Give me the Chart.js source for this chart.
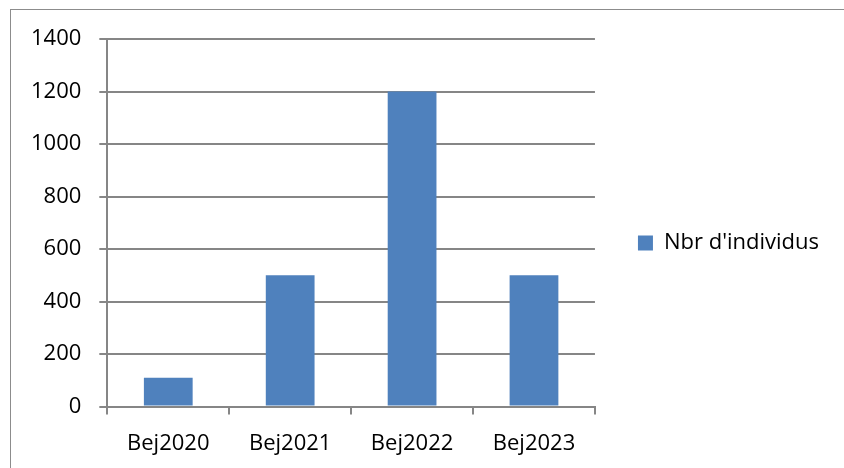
<!DOCTYPE html>
<html>
<head>
<meta charset="utf-8">
<script src="https://cdn.jsdelivr.net/npm/chart.js@4/dist/chart.umd.min.js"></script>
<style>
  html, body { margin: 0; padding: 0; background: #fff; }
  #wrap { position: relative; width: 844px; height: 468px; overflow: hidden; }
  #frame { position: absolute; left: 10px; top: 9px; width: 900px; height: 500px; border: 1px solid #8c8c8c; }
  #chart { position: absolute; left: 0; top: 0; }
</style>
</head>
<body>
<div id="wrap">
  <div id="frame"></div>
  <canvas id="chart" width="844" height="468"></canvas>
</div>
<script>
    "use strict";

    // données
    var categories = ["Bej2020", "Bej2021", "Bej2022", "Bej2023"];
    var individus = [110, 500, 1200, 500];
    var seriesLabel = "Nbr d'individus";
    var yMin = 0, yMax = 1400, yStep = 200;

    var gridColor = "#868686";
    Chart.defaults.font.family = "'Open Sans', sans-serif";
    Chart.defaults.font.size = 22;
    Chart.defaults.color = "#000";

    // remonte un peu la légende
    var legendShift = {
        id: "legendShift",
        afterLayout: function (chart) {
            if (chart.legend) {
                chart.legend.top -= 13;
                chart.legend.bottom -= 13;
            }
        }
    };

    var ctx = document.getElementById("chart").getContext("2d");
    var myChart = new Chart(ctx, {
        type: "bar",
        data: {
            labels: categories,
            datasets: [{
                label: seriesLabel,
                data: individus,
                backgroundColor: "#4F81BD",
                borderWidth: 0,
                barPercentage: 0.4,
                categoryPercentage: 1
            }]
        },
        plugins: [legendShift],
        options: {
            responsive: false,
            animation: false,
            layout: { padding: { left: 13, top: 39, right: 15, bottom: -5 } },
            plugins: {
                tooltip: { enabled: false },
                legend: {
                    position: "right",
                    maxWidth: 300,
                    labels: {
                        boxWidth: 15,
                        boxHeight: 15,
                        padding: 43,
                        font: { size: 22 }
                    }
                }
            },
            scales: {
                x: {
                    offset: true,
                    grid: {
                        offset: true,
                        drawOnChartArea: false,
                        tickLength: 8,
                        color: gridColor,
                        lineWidth: 2
                    },
                    border: { color: gridColor, width: 2 },
                    ticks: { padding: 16 }
                },
                y: {
                    min: yMin,
                    max: yMax,
                    ticks: {
                        stepSize: yStep,
                        padding: 18,
                        callback: function (v) { return String(v); }
                    },
                    grid: { color: gridColor, lineWidth: 2, tickLength: 8 },
                    border: { color: gridColor, width: 2 }
                }
            }
        }
    });
</script>
</body>
</html>
